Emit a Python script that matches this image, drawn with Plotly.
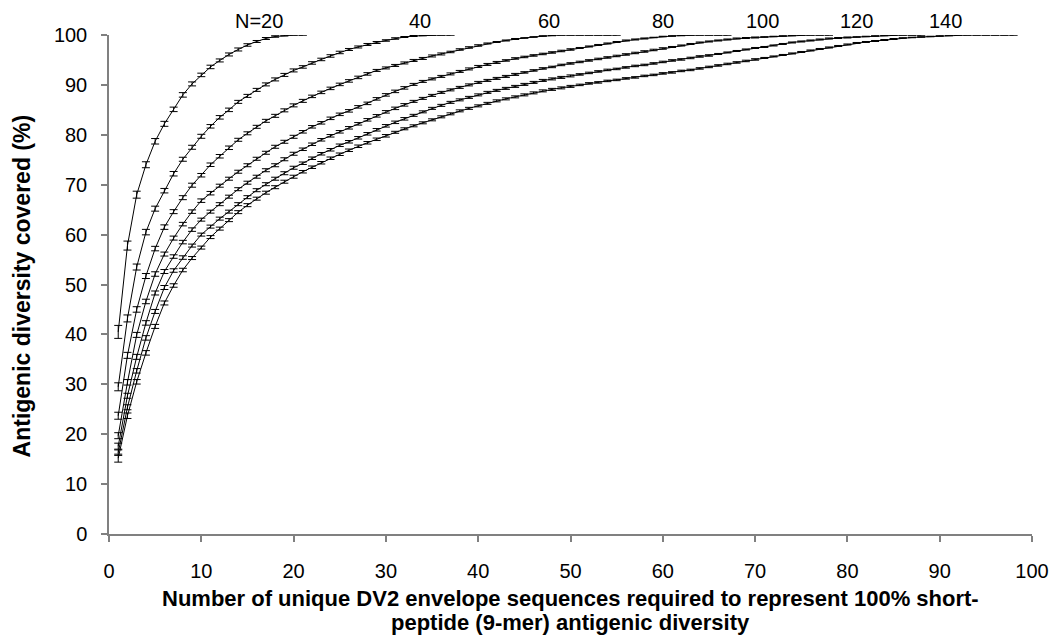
import plotly.graph_objects as go

# ---- data ----
n20 = [40.5, 57.8, 68.0, 74.0, 78.7, 82.2, 85.1, 88.0, 90.2, 92.0,
       93.6, 94.9, 96.1, 97.1, 98.0, 98.7, 99.3, 99.7, 99.9, 100, 100]
e20 = [1.3, 0.9, 0.7, 0.6, 0.55, 0.5, 0.45, 0.45, 0.4, 0.35,
       0.35, 0.3, 0.3, 0.3, 0.25, 0.2, 0.2, 0.15, 0.1, 0, 0]

n40 = [29.5, 43.2, 53.5, 60.5, 65.2, 68.8, 72.2, 75.1, 77.5, 79.7,
       81.7, 83.5, 85.0, 86.6, 87.8, 89.0, 90.1, 91.1, 92.0, 92.9,
       93.6, 94.4, 95.1, 95.8, 96.5, 97.1, 97.6, 98.1, 98.5, 98.9,
       99.3, 99.6, 99.8, 99.9, 100, 100, 100]
e40 = [0.8, 0.7, 0.6, 0.55, 0.5, 0.45, 0.45, 0.4, 0.4, 0.4,
       0.35, 0.35, 0.35, 0.3, 0.3, 0.3, 0.3, 0.3, 0.3, 0.3,
       0.25, 0.25, 0.25, 0.25, 0.25, 0.2, 0.2, 0.2, 0.2, 0.15,
       0.15, 0.1, 0.1, 0.05, 0, 0, 0]

n60 = [23.7, 35.8, 45.0, 51.7, 57.2, 61.5, 64.6, 67.4, 69.9, 71.9,
       74.0, 75.7, 77.4, 79.0, 80.3, 81.6, 82.8, 83.8, 84.9, 85.9,
       86.8, 87.7, 88.5, 89.3, 90.1, 90.8, 91.5, 92.2, 92.9, 93.4,
       93.9, 94.4, 94.9, 95.3, 95.8, 96.2, 96.6, 97.1, 97.5, 97.9,
       98.3, 98.6, 98.9, 99.2, 99.4, 99.6, 99.8, 99.9, 100, 100,
       100, 100, 100, 100, 100]
e60 = [0.7, 0.6, 0.55, 0.5, 0.45, 0.45, 0.4, 0.4, 0.4, 0.35,
       0.35, 0.35, 0.35, 0.3, 0.3, 0.3, 0.3, 0.3, 0.3, 0.3,
       0.3, 0.25, 0.25, 0.25, 0.25, 0.25, 0.25, 0.25, 0.2, 0.2,
       0.2, 0.2, 0.2, 0.2, 0.2, 0.2, 0.15, 0.15, 0.15, 0.15,
       0.1, 0.1, 0.1, 0.1, 0.05, 0.05, 0.05, 0.05, 0, 0,
       0, 0, 0, 0, 0]

n80 = [19.7, 30.4, 39.9, 46.6, 52.1, 56.1, 59.3, 62.1, 64.6, 66.8,
       68.3, 69.8, 71.2, 72.6, 73.9, 75.2, 76.4, 77.6, 78.6, 79.6,
       80.6, 81.6, 82.4, 83.3, 84.1, 84.8, 85.6, 86.3, 87.2, 88.0,
       88.7, 89.4, 90.1, 90.7, 91.2, 91.7, 92.2, 92.7, 93.2, 93.7,
       94.1, 94.5, 94.9, 95.3, 95.6, 95.9, 96.2, 96.5, 96.8, 97.1,
       97.4, 97.7, 98.0, 98.3, 98.6, 98.9, 99.1, 99.3, 99.5, 99.7,
       99.8, 99.9, 100, 100, 100, 100, 100]
e80 = [0.6, 0.55, 0.5, 0.45, 0.45, 0.4, 0.4, 0.35, 0.35, 0.35,
       0.35, 0.3, 0.3, 0.3, 0.3, 0.3, 0.3, 0.3, 0.3, 0.3,
       0.25, 0.25, 0.25, 0.25, 0.25, 0.25, 0.25, 0.25, 0.25, 0.25,
       0.25, 0.25, 0.2, 0.2, 0.2, 0.2, 0.2, 0.2, 0.2, 0.2,
       0.2, 0.2, 0.15, 0.15, 0.15, 0.15, 0.15, 0.15, 0.15, 0.15,
       0.1, 0.1, 0.1, 0.1, 0.1, 0.1, 0.1, 0.1, 0.05, 0.05,
       0.05, 0.05, 0, 0, 0, 0, 0]

n100 = [17.6, 27.7, 35.5, 42.3, 48.3, 52.6, 55.6, 58.5, 61.0, 63.0,
        64.6, 66.1, 67.6, 69.1, 70.4, 71.6, 72.9, 73.9, 75.1, 76.2,
        77.1, 78.1, 79.0, 79.8, 80.6, 81.4, 82.2, 83.0, 83.8, 84.6,
        85.3, 86.0, 86.7, 87.3, 87.9, 88.5, 89.0, 89.5, 90.0, 90.5,
        90.9, 91.3, 91.7, 92.1, 92.5, 92.9, 93.3, 93.6, 94.0, 94.3,
        94.6, 94.9, 95.2, 95.5, 95.8, 96.1, 96.4, 96.7, 97.0, 97.3,
        97.6, 97.9, 98.2, 98.5, 98.7, 98.9, 99.1, 99.3, 99.4, 99.5,
        99.6, 99.7, 99.8, 99.9, 100, 100, 100, 100]
e100 = [0.6, 0.5, 0.5, 0.45, 0.4, 0.4, 0.35, 0.35, 0.35, 0.3,
        0.3, 0.3, 0.3, 0.3, 0.3, 0.3, 0.3, 0.3, 0.3, 0.3,
        0.25, 0.25, 0.25, 0.25, 0.25, 0.25, 0.25, 0.25, 0.25, 0.25,
        0.25, 0.25, 0.2, 0.2, 0.2, 0.2, 0.2, 0.2, 0.2, 0.2,
        0.2, 0.2, 0.2, 0.2, 0.15, 0.15, 0.15, 0.15, 0.15, 0.15,
        0.15, 0.15, 0.15, 0.15, 0.15, 0.15, 0.15, 0.15, 0.15, 0.15,
        0.1, 0.1, 0.1, 0.1, 0.1, 0.1, 0.1, 0.1, 0.1, 0.1,
        0.05, 0.05, 0.05, 0.05, 0, 0, 0, 0]

n120 = [16.3, 25.4, 32.7, 39.3, 44.6, 49.4, 52.8, 55.4, 57.8, 60.0,
        61.6, 63.2, 64.6, 66.1, 67.5, 68.9, 70.1, 71.2, 72.3, 73.4,
        74.3, 75.3, 76.2, 77.0, 77.9, 78.6, 79.4, 80.2, 81.0, 81.8,
        82.5, 83.2, 83.9, 84.6, 85.3, 85.9, 86.5, 87.0, 87.5, 88.0,
        88.5, 88.9, 89.3, 89.7, 90.1, 90.5, 90.9, 91.2, 91.5, 91.8,
        92.1, 92.4, 92.7, 93.0, 93.2, 93.5, 93.8, 94.0, 94.3, 94.6,
        94.9, 95.1, 95.4, 95.7, 95.9, 96.2, 96.5, 96.8, 97.1, 97.4,
        97.6, 97.9, 98.2, 98.5, 98.7, 98.9, 99.1, 99.3, 99.4, 99.5,
        99.6, 99.7, 99.8, 99.9, 100, 100, 100, 100]
e120 = [0.55, 0.5, 0.45, 0.45, 0.4, 0.4, 0.35, 0.35, 0.3, 0.3,
        0.3, 0.3, 0.3, 0.3, 0.3, 0.3, 0.3, 0.3, 0.3, 0.3,
        0.25, 0.25, 0.25, 0.25, 0.25, 0.25, 0.25, 0.25, 0.25, 0.25,
        0.25, 0.25, 0.2, 0.2, 0.2, 0.2, 0.2, 0.2, 0.2, 0.2,
        0.2, 0.2, 0.2, 0.2, 0.2, 0.2, 0.2, 0.2, 0.2, 0.2,
        0.15, 0.15, 0.15, 0.15, 0.15, 0.15, 0.15, 0.15, 0.15, 0.15,
        0.15, 0.15, 0.15, 0.15, 0.15, 0.1, 0.1, 0.1, 0.1, 0.1,
        0.1, 0.1, 0.1, 0.1, 0.1, 0.1, 0.1, 0.1, 0.1, 0.1,
        0.05, 0.05, 0.05, 0.05, 0, 0, 0, 0]

n140 = [15.2, 23.7, 30.5, 36.3, 41.6, 46.3, 49.8, 52.9, 55.3, 57.4,
        59.5, 61.2, 62.9, 64.5, 65.9, 67.2, 68.4, 69.5, 70.6, 71.6,
        72.6, 73.5, 74.4, 75.3, 76.1, 76.9, 77.7, 78.4, 79.1, 79.8,
        80.5, 81.2, 81.8, 82.4, 83.0, 83.6, 84.2, 84.8, 85.3, 85.8,
        86.3, 86.8, 87.2, 87.6, 88.0, 88.4, 88.8, 89.1, 89.4, 89.7,
        90.0, 90.3, 90.5, 90.8, 91.0, 91.3, 91.5, 91.8, 92.0, 92.3,
        92.5, 92.8, 93.0, 93.3, 93.6, 93.9, 94.2, 94.5, 94.8, 95.1,
        95.4, 95.7, 96.0, 96.3, 96.6, 96.9, 97.2, 97.5, 97.8, 98.1,
        98.4, 98.6, 98.8, 99.0, 99.2, 99.4, 99.5, 99.6, 99.7, 99.8,
        99.9, 100, 100, 100, 100, 100, 100, 100]
e140 = [0.8, 0.55, 0.45, 0.45, 0.4, 0.4, 0.35, 0.35, 0.3, 0.3,
        0.3, 0.3, 0.3, 0.3, 0.3, 0.3, 0.3, 0.3, 0.3, 0.3,
        0.25, 0.25, 0.25, 0.25, 0.25, 0.25, 0.25, 0.25, 0.25, 0.25,
        0.2, 0.2, 0.2, 0.2, 0.2, 0.2, 0.2, 0.2, 0.2, 0.2,
        0.2, 0.2, 0.2, 0.2, 0.2, 0.2, 0.2, 0.2, 0.2, 0.2,
        0.15, 0.15, 0.15, 0.15, 0.15, 0.15, 0.15, 0.15, 0.15, 0.15,
        0.15, 0.15, 0.15, 0.15, 0.15, 0.15, 0.15, 0.15, 0.15, 0.15,
        0.1, 0.1, 0.1, 0.1, 0.1, 0.1, 0.1, 0.1, 0.1, 0.1,
        0.1, 0.1, 0.1, 0.1, 0.1, 0.05, 0.05, 0.05, 0.05, 0.05,
        0.05, 0, 0, 0, 0, 0, 0, 0]

series_labels = ["N=20", "40", "60", "80", "100", "120", "140"]
series_values = [n20, n40, n60, n80, n100, n120, n140]
series_errors = [e20, e40, e60, e80, e100, e120, e140]
label_x = [16.2, 33.7, 47.7, 60.0, 70.8, 81.0, 90.6]

x_title_1 = "Number of unique DV2 envelope sequences required to represent 100% short-"
x_title_2 = "peptide (9-mer) antigenic diversity"
y_title = "Antigenic diversity covered (%)"

FONT = "Liberation Sans, Arial, sans-serif"

fig = go.Figure()
for name, vals, errs in zip(series_labels, series_values, series_errors):
    assert len(vals) == len(errs)
    xs = list(range(1, len(vals) + 1))
    fig.add_trace(go.Scatter(
        x=xs, y=vals, mode="lines", name=name,
        line=dict(color="black", width=1),
        error_y=dict(type="data", array=errs, visible=True,
                     color="black", thickness=1, width=4),
        cliponaxis=False, showlegend=False,
    ))

for txt, lx in zip(series_labels, label_x):
    fig.add_annotation(x=lx, y=1.028, xref="x", yref="paper", text=txt,
                       showarrow=False, xanchor="center", yanchor="middle",
                       font=dict(family=FONT, size=20, color="black"))

fig.add_annotation(x=0.5, y=-0.129, xref="paper", yref="paper", text="<b>" + x_title_1 + "</b>",
                   showarrow=False, xanchor="center", yanchor="middle",
                   font=dict(family=FONT, size=22, color="black"))
fig.add_annotation(x=0.5, y=-0.177, xref="paper", yref="paper", text="<b>" + x_title_2 + "</b>",
                   showarrow=False, xanchor="center", yanchor="middle",
                   font=dict(family=FONT, size=22, color="black"))
fig.add_annotation(x=-0.0946, y=0.4975, xref="paper", yref="paper", text="<b>" + y_title + "</b>",
                   showarrow=False, xanchor="center", yanchor="middle", textangle=-90,
                   font=dict(family=FONT, size=23, color="black"))

axis_common = dict(showgrid=False, zeroline=False, showline=True,
                   linecolor="#808080", linewidth=1.5, ticks="outside",
                   ticklen=6, tickcolor="#808080", tickwidth=1.5,
                   tickfont=dict(family=FONT, size=20, color="black"))

fig.update_xaxes(range=[0, 100], tick0=0, dtick=10, ticklabelstandoff=12, **axis_common)
fig.update_yaxes(range=[0, 100], tick0=0, dtick=10, ticklabelstandoff=10, **axis_common)

fig.update_layout(
    width=1064, height=644,
    margin=dict(l=109, r=32, t=35, b=110),
    paper_bgcolor="white", plot_bgcolor="white",
    font=dict(family=FONT, color="black"),
)

fig.write_html("out.html")
